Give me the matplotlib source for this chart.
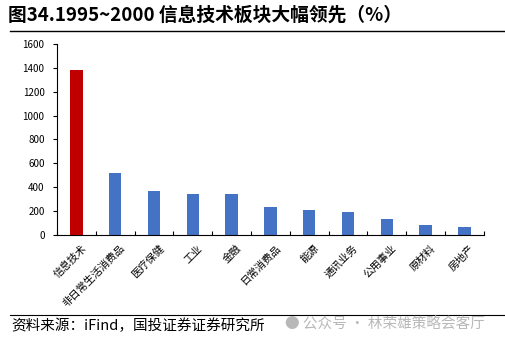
import matplotlib.pyplot as plt
from matplotlib.lines import Line2D

plt.rcParams['font.family'] = ['Noto Sans CJK SC', 'DejaVu Sans']

sectors = ["信息技术", "非日常生活消费品", "医疗保健", "工业", "金融", "日常消费品",
           "能源", "通讯业务", "公用事业", "原材料", "房地产"]
returns = [1385, 523, 364, 347, 342, 237, 210, 189, 134, 84, 67]
colors = ["#C00000"] + ["#4472C4"] * (len(sectors) - 1)

fig = plt.figure(figsize=(5.05, 3.43), dpi=100)
ax = fig.add_axes([0.113, 0.315, 0.845, 0.557])

x = range(len(sectors))
ax.bar(x, returns, width=0.32, color=colors)

ax.set_xlim(-0.5, len(sectors) - 0.5)
ax.set_ylim(0, 1600)
ax.set_yticks(range(0, 1601, 200))
ax.tick_params(axis="y", labelsize=7, length=3, width=0.8, direction="out", pad=6)

ax.set_xticks([i - 0.5 for i in range(len(sectors) + 1)])
ax.set_xticklabels([])
ax.tick_params(axis="x", length=3, width=0.8, direction="in")
for i, name in enumerate(sectors):
    ax.text(i + 0.12, -70, name, rotation=45, ha="right", va="top",
            fontsize=7.5, rotation_mode="anchor")

for side in ["top", "right"]:
    ax.spines[side].set_visible(False)
for side in ["left", "bottom"]:
    ax.spines[side].set_linewidth(0.8)

fig.text(0.016, 0.955, "图34.1995~2000 信息技术板块大幅领先（%）",
         fontsize=13.5, fontweight="bold", va="center")
fig.add_artist(Line2D([0.02, 1.0], [0.91, 0.91], color="black", lw=1.0))
fig.add_artist(Line2D([0.02, 1.0], [0.083, 0.083], color="black", lw=0.8))
fig.text(0.022, 0.05, "资料来源：iFind，国投证券证券研究所",
         fontsize=10.5, style="italic", va="center")
fig.text(0.565, 0.055, "● 公众号 · 林荣雄策略会客厅",
         fontsize=10.5, color="#B8B8B8", va="center")

plt.savefig("out.png", dpi=100)
plt.close()
